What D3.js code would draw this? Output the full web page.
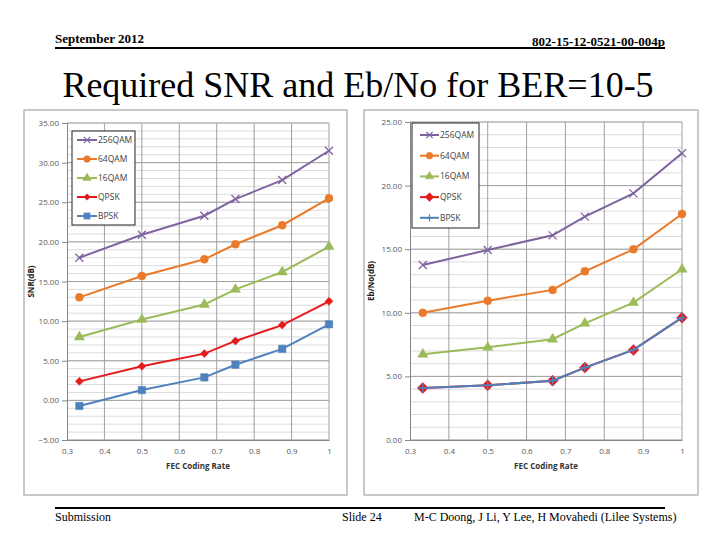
<!DOCTYPE html>
<html><head><meta charset="utf-8">
<script src="https://cdn.jsdelivr.net/npm/d3@7"></script>
<style>body{margin:0;background:#fff}svg{display:block}</style>
</head><body>
<script>
// ---- data ----
const codingRates = [0.333, 0.5, 0.667, 0.75, 0.875, 1];
const seriesNames = ["256QAM", "64QAM", "16QAM", "QPSK", "BPSK"];
const snr256QAM = [18.0, 20.9, 23.3, 25.4, 27.8, 31.5];
const snr64QAM  = [13.0, 15.7, 17.8, 19.7, 22.1, 25.5];
const snr16QAM  = [8.0, 10.2, 12.1, 14.0, 16.2, 19.4];
const snrQPSK   = [2.4, 4.3, 5.9, 7.5, 9.5, 12.5];
const snrBPSK   = [-0.7, 1.3, 2.9, 4.5, 6.5, 9.6];
const ebno256QAM = [13.76, 14.94, 16.09, 17.56, 19.39, 22.54];
const ebno64QAM  = [10.0, 10.95, 11.8, 13.26, 14.99, 17.77];
const ebno16QAM  = [6.74, 7.29, 7.92, 9.17, 10.8, 13.42];
const ebnoQPSK   = [4.09, 4.3, 4.66, 5.69, 7.08, 9.62];
const ebnoBPSK   = [4.09, 4.3, 4.66, 5.69, 7.08, 9.62];
const xTicks = [0.3, 0.4, 0.5, 0.6, 0.7, 0.8, 0.9, 1];
const snrTicks = [-5, 0, 5, 10, 15, 20, 25, 30, 35];
const ebnoTicks = [0, 5, 10, 15, 20, 25];
const titleText = "Required SNR and Eb/No for BER=10-5";
const headerLeft = "September 2012";
const headerRight = "802-15-12-0521-00-004p";
const footerLeft = "Submission";
const footerMid = "Slide 24";
const footerRight = "M-C Doong, J Li, Y Lee, H Movahedi (Lilee Systems)";

// ---- styles ----
const colors = {"256QAM":"#7f63a0","64QAM":"#ea7a2a","16QAM":"#9bbb59","QPSK":"#e41a1c","BPSK":"#4f81bd"};
const W = 720, H = 540;
const svg = d3.select("body").append("svg").attr("width", W).attr("height", H);
const serif = "'Liberation Serif','Times New Roman',serif";
const sans = "'Open Sans','Liberation Sans',Arial,sans-serif";

// header / footer
svg.append("text").attr("x",55).attr("y",43).attr("font-family",serif).attr("font-weight","bold").attr("font-size",13).text(headerLeft);
svg.append("text").attr("x",665).attr("y",46).attr("text-anchor","end").attr("font-family",serif).attr("font-weight","bold").attr("font-size",13).text(headerRight);
svg.append("line").attr("x1",55).attr("x2",665).attr("y1",48).attr("y2",48).attr("stroke","#000").attr("stroke-width",2);
svg.append("text").attr("x",358).attr("y",97).attr("text-anchor","middle").attr("font-family",serif).attr("font-size",36).text(titleText);
svg.append("line").attr("x1",55).attr("x2",665).attr("y1",508).attr("y2",508).attr("stroke","#000").attr("stroke-width",2);
svg.append("text").attr("x",55).attr("y",521).attr("font-family",serif).attr("font-size",12).text(footerLeft);
svg.append("text").attr("x",342).attr("y",521).attr("font-family",serif).attr("font-size",12).text(footerMid);
svg.append("text").attr("x",414).attr("y",521).attr("font-family",serif).attr("font-size",12).text(footerRight);

function markerPath(type, s) {
  if (type === "x") return `M${-s},${-s}L${s},${s}M${-s},${s}L${s},${-s}`;
  if (type === "plus") return `M${-s},0L${s},0M0,${-s}L0,${s}`;
  if (type === "diamond") return `M0,${-s}L${s},0L0,${s}L${-s},0Z`;
  const sym = {circle:d3.symbolCircle, square:d3.symbolSquare, triangle:d3.symbolTriangle}[type];
  return d3.symbol().type(sym).size(s)();
}

function drawChart(cfg) {
  const g = svg.append("g");
  g.append("rect").attr("x",cfg.frame[0]).attr("y",cfg.frame[1]).attr("width",cfg.frame[2]).attr("height",cfg.frame[3])
    .attr("fill","#fff").attr("stroke","#a6a6a6").attr("stroke-width",1.2);
  const x = d3.scaleLinear().domain([0.3, 1]).range([cfg.plot.left, cfg.plot.right]);
  const y = d3.scaleLinear().domain(cfg.yDomain).range([cfg.plot.bottom, cfg.plot.top]);
  // minor grid
  g.append("g").selectAll("line").data(d3.range(cfg.yDomain[0], cfg.yDomain[1] + 0.01, 1)).join("line")
    .attr("x1", x(0.3)).attr("x2", x(1)).attr("y1", d => y(d)).attr("y2", d => y(d))
    .attr("stroke", "#dcdcdc").attr("stroke-width", 1);
  // major grid
  g.append("g").selectAll("line").data(cfg.yTicks).join("line")
    .attr("x1", x(0.3)).attr("x2", x(1)).attr("y1", d => y(d)).attr("y2", d => y(d))
    .attr("stroke", "#a0a0a0").attr("stroke-width", 1);
  g.append("g").selectAll("line").data(xTicks.slice(1)).join("line")
    .attr("x1", d => x(d)).attr("x2", d => x(d)).attr("y1", y(cfg.yDomain[0])).attr("y2", y(cfg.yDomain[1]))
    .attr("stroke", "#a0a0a0").attr("stroke-width", 1);
  // axes
  const ya = g.append("g").attr("transform", `translate(${x(0.3)},0)`)
    .call(d3.axisLeft(y).tickValues(cfg.yTicks).tickFormat(d3.format(".2f")).tickSize(5).tickPadding(3));
  ya.select(".domain").attr("stroke", "#868686");
  ya.selectAll(".tick line").attr("stroke", "#868686");
  ya.selectAll("text").attr("font-family", sans).attr("font-size", 8).attr("fill", "#595959");
  const xa = g.append("g").attr("transform", `translate(0,${y(cfg.yDomain[0])})`)
    .call(d3.axisBottom(x).tickValues(xTicks).tickFormat(d => d3.format("")(d)).tickSize(0).tickPadding(8));
  xa.select(".domain").attr("stroke", "#868686");
  xa.selectAll("text").attr("font-family", sans).attr("font-size", 8).attr("fill", "#595959");
  // titles
  g.append("text").attr("x", (x(0.3)+x(1))/2).attr("y", cfg.plot.bottom + 29).attr("text-anchor","middle")
    .attr("font-family", sans).attr("font-weight","bold").attr("font-size", 8).attr("fill","#333").text("FEC Coding Rate");
  g.append("text").attr("transform", `translate(${cfg.yTitleX},${(cfg.plot.top+cfg.plot.bottom)/2}) rotate(-90)`)
    .attr("text-anchor","middle").attr("font-family", sans).attr("font-weight","bold").attr("font-size", 8).attr("fill","#222").text(cfg.yTitle);
  // series
  const line = d3.line().x((d,i) => x(codingRates[i])).y(d => y(d));
  cfg.series.forEach(s => {
    const c = colors[s.name];
    g.append("path").attr("d", line(s.values)).attr("fill","none").attr("stroke", c).attr("stroke-width", 2);
    g.append("g").selectAll("path").data(s.values).join("path")
      .attr("transform", (d,i) => `translate(${x(codingRates[i])},${y(d)})`)
      .attr("d", markerPath(s.marker, s.size))
      .attr("fill", (s.marker === "x" || s.marker === "plus") ? "none" : c)
      .attr("stroke", c).attr("stroke-width", (s.marker === "x" || s.marker === "plus") ? 1.3 : 0.5);
  });
  // legend
  const L = cfg.legend;
  g.append("rect").attr("x", L.x).attr("y", L.y).attr("width", L.w).attr("height", L.h)
    .attr("fill", "#fff").attr("stroke", "#222").attr("stroke-width", 1);
  cfg.series.forEach((s, i) => {
    const c = colors[s.name];
    const yy = L.y + L.first + i * L.step;
    g.append("line").attr("x1", L.x + L.lx0).attr("x2", L.x + L.lx1).attr("y1", yy).attr("y2", yy).attr("stroke", c).attr("stroke-width", 2);
    const small = (s.marker === "x" || s.marker === "plus" || s.marker === "diamond") ? s.size*0.8 : s.size*0.7;
    g.append("path").attr("transform", `translate(${L.x + (L.lx0+L.lx1)/2},${yy})`)
      .attr("d", markerPath(s.marker, small))
      .attr("fill", (s.marker === "x" || s.marker === "plus") ? "none" : c)
      .attr("stroke", c).attr("stroke-width", (s.marker === "x" || s.marker === "plus") ? 1.2 : 0.5);
    g.append("text").attr("x", L.x + L.lx1 + 1).attr("y", yy + 3).attr("font-family", sans).attr("font-size", 8.5).attr("fill", "#404040").text(s.name);
  });
}

drawChart({
  frame: [24, 110, 323, 385],
  plot: {left: 67, right: 329, top: 123, bottom: 440},
  yDomain: [-5, 35], yTicks: snrTicks, yTitle: "SNR(dB)", yTitleX: 34,
  legend: {x: 72, y: 131, w: 63, h: 94, first: 9, step: 19, lx0: 5, lx1: 25},
  series: [
    {name: seriesNames[0], values: snr256QAM, marker: "x", size: 4},
    {name: seriesNames[1], values: snr64QAM, marker: "circle", size: 50},
    {name: seriesNames[2], values: snr16QAM, marker: "triangle", size: 45},
    {name: seriesNames[3], values: snrQPSK, marker: "diamond", size: 4},
    {name: seriesNames[4], values: snrBPSK, marker: "square", size: 55}
  ]
});
drawChart({
  frame: [364, 110, 334, 385],
  plot: {left: 410, right: 682, top: 122, bottom: 440},
  yDomain: [0, 25], yTicks: ebnoTicks, yTitle: "Eb/No(dB)", yTitleX: 374,
  legend: {x: 412, y: 123, w: 67, h: 105, first: 12, step: 20.7, lx0: 8, lx1: 27},
  series: [
    {name: seriesNames[0], values: ebno256QAM, marker: "x", size: 4},
    {name: seriesNames[1], values: ebno64QAM, marker: "circle", size: 50},
    {name: seriesNames[2], values: ebno16QAM, marker: "triangle", size: 45},
    {name: seriesNames[3], values: ebnoQPSK, marker: "diamond", size: 5.5},
    {name: seriesNames[4], values: ebnoBPSK, marker: "plus", size: 4.5}
  ]
});
</script>
</body></html>
